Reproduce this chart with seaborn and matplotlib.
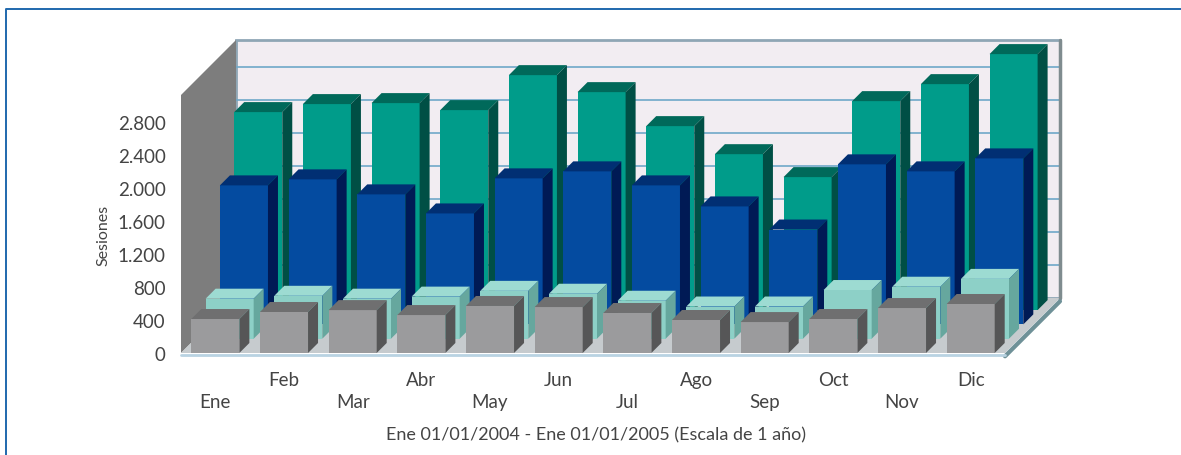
import matplotlib
matplotlib.use('Agg')
import matplotlib.pyplot as plt
from matplotlib.lines import Line2D
from matplotlib.patches import Polygon
import seaborn as sns

meses = ['Ene', 'Feb', 'Mar', 'Abr', 'May', 'Jun', 'Jul', 'Ago', 'Sep', 'Oct', 'Nov', 'Dic']
verde = [2400, 2497, 2509, 2424, 2848, 2642, 2230, 1890, 1612, 2533, 2739, 3103]
azul = [1685, 1758, 1576, 1345, 1770, 1855, 1685, 1430, 1150, 1940, 1855, 2012]
turquesa = [485, 520, 485, 510, 580, 545, 460, 390, 390, 590, 630, 725]
gris = [412, 497, 520, 460, 570, 557, 485, 400, 375, 412, 545, 594]
marcas_y = [0, 400, 800, 1200, 1600, 2000, 2400, 2800]
etiquetas_y = ['0', '400', '800', '1.200', '1.600', '2.000', '2.400', '2.800']

W, H = 1181, 456
PX_X0, PX_X1, PX_Y0, PX_Y1 = 181, 1005, 354, 96
Y_MAX = (PX_Y0 - PX_Y1) / 0.0825
PX_BANDA = (PX_X1 - PX_X0) / 12
PX_UNIDAD = (PX_Y0 - PX_Y1) / Y_MAX

# de atras hacia delante: serie, colores (frente, arriba, lado) y capa de profundidad
capas = [
    (verde, ('#009c8a', '#00695a', '#004f45'), 3),
    (azul, ('#044ba0', '#012f73', '#001a55'), 2),
    (turquesa, ('#8dd0c7', '#9ddbd2', '#66a79e'), 1),
    (gris, ('#9b9b9d', '#6f6f70', '#565657'), 0),
]

sns.set_theme(style='white')
plt.rcParams['font.family'] = ['Lato', 'DejaVu Sans']

fig = plt.figure(figsize=(W / 100, H / 100), dpi=100, facecolor='white')


def caja(dx=0, dy=0):
    return [(PX_X0 + dx) / W, (H - PX_Y0 + dy) / H, (PX_X1 - PX_X0) / W, (PX_Y0 - PX_Y1) / H]


# marco exterior: solo arriba y a la izquierda
fig.add_artist(Line2D([6 / W, 6 / W, 1], [0, 1 - 9.5 / H, 1 - 9.5 / H], transform=fig.transFigure,
                      color='#1f68ad', linewidth=1.4))

ax = fig.add_axes(caja())
ax.patch.set_visible(False)
ax.set_xlim(-0.5, 11.5)
ax.set_ylim(0, Y_MAX)
for lado in ax.spines.values():
    lado.set_visible(False)

# paredes y suelo en perspectiva
fx, fy = 55 / PX_BANDA, 55 / PX_UNIDAD
x0, x1 = -0.5, 11.5
ax.add_patch(Polygon([(x0 + fx, fy), (x1 + fx, fy), (x1 + fx, Y_MAX + fy), (x0 + fx, Y_MAX + fy)],
                     facecolor='#f2edf2', edgecolor='#8fa6b5', linewidth=2, clip_on=False, zorder=1))
ax.add_patch(Polygon([(x0, 0), (x0 + fx, fy), (x0 + fx, Y_MAX + fy), (x0, Y_MAX)],
                     facecolor='#7d7d7d', edgecolor='none', clip_on=False, zorder=2))
ax.add_patch(Polygon([(x0, 0), (x1, 0), (x1 + fx, fy), (x0 + fx, fy)],
                     facecolor='#c6cbce', edgecolor='none', clip_on=False, zorder=2))
for v in marcas_y[1:]:
    ax.plot([x0 + fx, x1 + fx], [v + fy, v + fy], color='#6fa8c8', lw=1.2, clip_on=False, zorder=1.5)
ax.plot([x1 + fx, x1 + fx], [fy, Y_MAX + fy], color='#7f8c8f', lw=2.5, clip_on=False, zorder=2)
ax.plot([x1, x1 + fx], [-40, fy - 40], color='#6f9198', lw=3, clip_on=False, zorder=2)
ax.plot([x0, x1], [-25, -25], color='#b9d3e2', lw=2, clip_on=False, zorder=2)

ax.set_yticks(marcas_y, etiquetas_y)
ax.set_xticks(range(len(meses)), meses)
ax.tick_params(axis='y', length=9, width=1.2, color='#6fb0d6', labelsize=13.5, labelcolor='#444444', pad=2)
ax.tick_params(axis='x', length=6, width=1.2, color='#6fb0d6', labelsize=13.5, labelcolor='#444444')
for i, t in enumerate(ax.xaxis.get_major_ticks()):
    t.set_pad(23 if i % 2 == 0 else 7)
fig.text(103 / W, 1 - 235 / H, 'Sesiones', rotation=90, ha='center', va='center',
         fontsize=11.5, color='#444444')
fig.text(596 / W, 1 - 435 / H, 'Ene 01/01/2004 - Ene 01/01/2005 (Escala de 1 año)',
         ha='center', va='center', fontsize=13, color='#444444')

for valores, (frente, arriba, lado), capa in capas:
    d = 14.3 * capa
    ax_capa = fig.add_axes(caja(d, d), zorder=5 - capa)
    sns.barplot(x=meses, y=valores, color=frente, saturation=1, width=0.7, linewidth=0, ax=ax_capa)
    ax_capa.set_xlim(-0.5, 11.5)
    ax_capa.set_ylim(0, Y_MAX)
    ax_capa.axis('off')
    dx, dy = 10 / PX_BANDA, 10 / PX_UNIDAD
    for barra in ax_capa.patches:
        a, b = barra.get_x(), barra.get_x() + barra.get_width()
        h = barra.get_height()
        ax_capa.add_patch(Polygon([(a, h), (b, h), (b + dx, h + dy), (a + dx, h + dy)],
                                  facecolor=arriba, edgecolor='none', clip_on=False))
        ax_capa.add_patch(Polygon([(b, 0), (b + dx, dy), (b + dx, h + dy), (b, h)],
                                  facecolor=lado, edgecolor='none', clip_on=False))

fig.savefig('out.png', dpi=100)
